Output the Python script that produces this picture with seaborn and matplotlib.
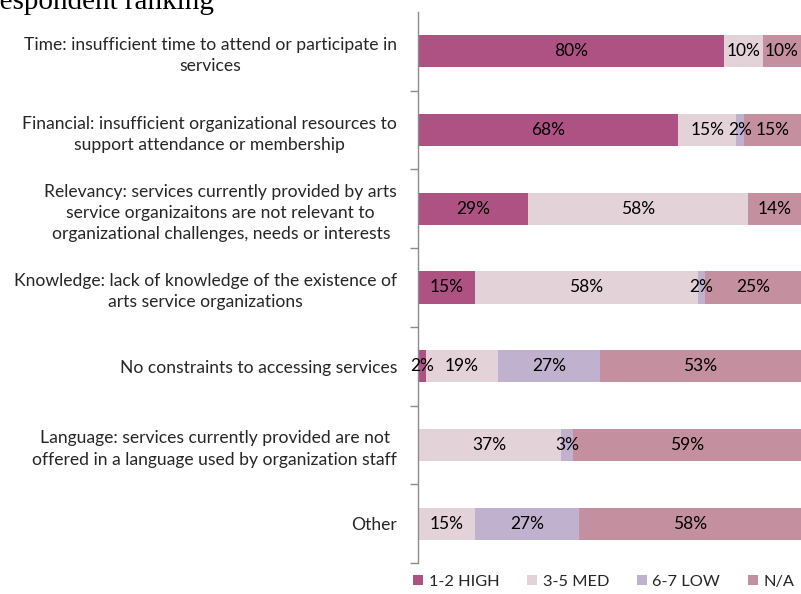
import matplotlib
matplotlib.use('Agg')
import numpy as np
import pandas as pd
import matplotlib.pyplot as plt
import seaborn as sns
from matplotlib.patches import Patch

# Data (percent of respondents per ranking band)
categories = [
    "Time: insufficient time to attend or participate in\nservices",
    "Financial: insufficient organizational resources to\nsupport attendance or membership",
    "Relevancy: services currently provided by arts\nservice organizaitons are not relevant to\norganizational challenges, needs or interests",
    "Knowledge: lack of knowledge of the existence of\narts service organizations",
    "No constraints to accessing services",
    "Language: services currently provided are not\noffered in a language used by organization staff",
    "Other",
]
high = [80, 68, 29, 15, 2, 0, 0]
med = [10, 15, 58, 58, 19, 37, 15]
low = [0, 2, 0, 2, 27, 3, 27]
na = [10, 15, 14, 25, 53, 59, 58]

series_names = ["1-2 HIGH", "3-5 MED", "6-7 LOW", "N/A"]
colors = ["#AE5183", "#E3D2D7", "#C0B2CE", "#C48F9F"]

df = pd.DataFrame({"category": categories, "high": high, "med": med, "low": low, "na": na})
cols = ["high", "med", "low", "na"]
totals = df[cols].sum(axis=1)
# 100% stacked: each band is a share of the row total
shares = df[cols].div(totals, axis=0)
cum = shares.cumsum(axis=1)

sns.set_style("white")
plt.rcParams['font.family'] = ['Lato', 'DejaVu Sans']

fig = plt.figure(figsize=(8.01, 5.94), dpi=100)
ax = fig.add_axes([418 / 801, 1 - 563 / 594, 1 - 418 / 801, (563 - 12) / 594])

# draw from the full stack backwards so each layer covers the next
for col, color in reversed(list(zip(cols, colors))):
    sns.barplot(x=cum[col], y=df["category"], color=color, orient="h",
                width=0.41, saturation=1, linewidth=0, ax=ax)

# value labels centred on each segment
for i in range(len(df)):
    for col in cols:
        val = df.loc[i, col]
        if val == 0:
            continue
        center = cum.loc[i, col] - shares.loc[i, col] / 2
        ax.text(center, i, f"{val}%", ha="center", va="center", fontsize=12.5, color="black")

ax.set_xlim(0, 1)
ax.set_ylim(6.5, -0.5)
ax.set_xlabel("")
ax.set_ylabel("")
ax.set_xticks([])
ax.set_yticks(range(len(categories)))
ax.set_yticklabels(categories, fontsize=12.6, multialignment="center", linespacing=1.4)
ax.set_yticks(np.arange(0.5, 7, 1), minor=True)
ax.tick_params(axis="y", which="major", length=0, pad=15)
ax.tick_params(axis="y", which="minor", length=6, width=1, color="#8c8c8c", left=True, direction="out")
for side in ["top", "right", "bottom"]:
    ax.spines[side].set_visible(False)
ax.spines["left"].set_color("#8c8c8c")
ax.spines["left"].set_linewidth(1)

handles = [Patch(facecolor=c, edgecolor="none") for c in colors]
fig.legend(handles, series_names, loc="center left", bbox_to_anchor=(413 / 801, 1 - 582 / 594),
           ncol=4, frameon=False, fontsize=11.8, handlelength=0.6, handleheight=0.6,
           handletextpad=0.35, columnspacing=1.7, borderaxespad=0, borderpad=0)

# title is cropped at the top-left edge of the original image
fig.text(214 / 801, 1 - 9 / 594, "respondent ranking", ha="right", va="baseline",
         fontsize=21, family=["Liberation Serif", "DejaVu Serif"], color="black")

fig.savefig("out.png", dpi=100)
